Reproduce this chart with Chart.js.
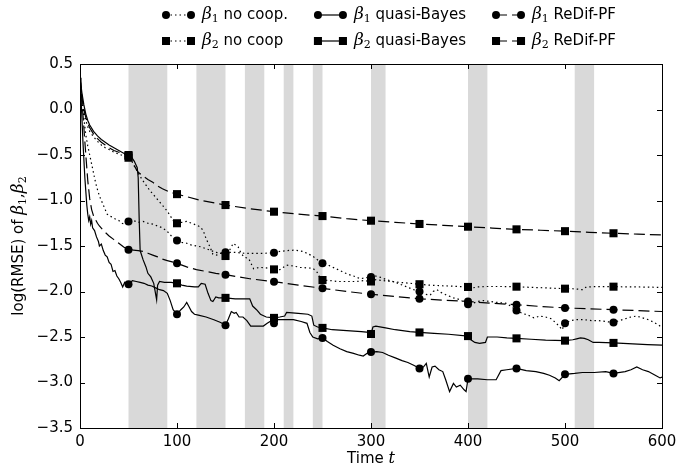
<!DOCTYPE html>
<html>
<head>
<meta charset="utf-8">
<script src="https://cdn.jsdelivr.net/npm/chart.js@4.4.1/dist/chart.umd.min.js"></script>
<style>
  html, body { margin: 0; padding: 0; background: #fff; }
  #wrap { width: 690px; height: 471px; }
</style>
</head>
<body>
<div id="wrap"><canvas id="grafico" width="690" height="471"></canvas></div>
<script>
// ===== DATA (time t, log RMSE) =====
const b1NoCoop = [[0,0.35],[2,0.1],[4,-0.1],[6,-0.28],[8,-0.4],[10,-0.5],[12,-0.6],[14,-0.7],[16,-0.8],[18,-0.88],[20,-0.95],[22,-1.0],[24,-1.05],[26,-1.1],[28,-1.15],[30,-1.17],[33,-1.18],[36,-1.2],[40,-1.22],[43,-1.25],[46,-1.26],[50,-1.23],[55,-1.22],[60,-1.24],[65,-1.23],[70,-1.25],[75,-1.26],[80,-1.28],[85,-1.3],[90,-1.34],[95,-1.4],[100,-1.44],[105,-1.46],[110,-1.47],[115,-1.49],[120,-1.5],[125,-1.51],[130,-1.53],[135,-1.55],[140,-1.57],[145,-1.58],[150,-1.57],[155,-1.57],[160,-1.57],[170,-1.58],[180,-1.58],[190,-1.58],[200,-1.575],[206,-1.56],[214,-1.55],[222,-1.545],[230,-1.56],[236,-1.59],[241,-1.62],[247,-1.67],[250,-1.69],[256,-1.71],[263,-1.745],[270,-1.78],[276,-1.81],[282,-1.83],[289,-1.86],[294,-1.85],[300,-1.84],[305,-1.83],[310,-1.845],[316,-1.87],[323,-1.89],[330,-1.92],[337,-1.95],[344,-1.98],[350,-2.0],[356,-2.03],[361,-2.04],[364,-2.0],[368,-1.98],[372,-2.01],[378,-2.04],[385,-2.07],[392,-2.09],[396,-2.12],[400,-2.14],[405,-2.13],[410,-2.11],[416,-2.1],[423,-2.11],[430,-2.12],[440,-2.13],[445,-2.17],[450,-2.21],[456,-2.24],[462,-2.26],[468,-2.29],[474,-2.27],[480,-2.28],[486,-2.3],[490,-2.34],[494,-2.38],[497,-2.42],[500,-2.35],[506,-2.32],[512,-2.31],[520,-2.31],[528,-2.32],[535,-2.32],[542,-2.33],[550,-2.34],[556,-2.32],[562,-2.3],[568,-2.28],[574,-2.27],[580,-2.29],[586,-2.31],[592,-2.34],[598,-2.38],[600,-2.39]];

const b2NoCoop = [[0,0.35],[2,0.12],[4,-0.02],[6,-0.12],[8,-0.19],[10,-0.24],[14,-0.3],[18,-0.35],[22,-0.39],[26,-0.42],[30,-0.44],[35,-0.47],[40,-0.49],[45,-0.51],[50,-0.53],[53,-0.56],[56,-0.62],[60,-0.7],[64,-0.77],[68,-0.83],[72,-0.89],[76,-0.94],[80,-0.99],[84,-1.04],[88,-1.09],[92,-1.15],[96,-1.22],[100,-1.25],[105,-1.24],[110,-1.23],[115,-1.25],[120,-1.27],[124,-1.29],[127,-1.33],[130,-1.42],[134,-1.51],[137,-1.59],[141,-1.6],[145,-1.58],[150,-1.61],[154,-1.55],[158,-1.47],[163,-1.51],[166,-1.58],[169,-1.62],[174,-1.64],[179,-1.75],[185,-1.735],[192,-1.74],[200,-1.757],[206,-1.76],[213,-1.71],[220,-1.72],[227,-1.735],[234,-1.74],[240,-1.745],[244,-1.78],[247,-1.84],[250,-1.874],[258,-1.88],[266,-1.89],[275,-1.89],[285,-1.89],[293,-1.88],[300,-1.89],[305,-1.87],[312,-1.88],[320,-1.89],[330,-1.9],[340,-1.91],[350,-1.92],[360,-1.93],[370,-1.935],[380,-1.94],[390,-1.945],[400,-1.95],[405,-1.96],[410,-1.95],[420,-1.945],[435,-1.945],[450,-1.947],[465,-1.955],[480,-1.96],[490,-1.965],[500,-1.969],[508,-1.97],[514,-1.975],[518,-1.98],[522,-1.95],[530,-1.947],[550,-1.947],[575,-1.95],[600,-1.955]];

const b1Quasi = [[0,0.35],[1,0.15],[2,-0.1],[3,-0.35],[4,-0.55],[5,-0.75],[6,-0.9],[7,-1.05],[8,-1.15],[9,-1.22],[10,-1.18],[11,-1.26],[12,-1.22],[13,-1.3],[15,-1.33],[17,-1.4],[19,-1.45],[20,-1.5],[22,-1.48],[24,-1.55],[26,-1.6],[28,-1.62],[30,-1.68],[32,-1.7],[34,-1.78],[36,-1.77],[38,-1.83],[40,-1.86],[42,-1.9],[44,-1.95],[46,-1.9],[48,-1.93],[50,-1.92],[54,-1.88],[58,-1.89],[62,-1.9],[66,-1.91],[70,-1.93],[74,-1.94],[78,-1.96],[82,-1.98],[86,-1.99],[90,-2.02],[93,-2.1],[96,-2.2],[100,-2.25],[104,-2.2],[107,-2.17],[110,-2.12],[112,-2.16],[115,-2.22],[118,-2.25],[122,-2.26],[130,-2.28],[138,-2.31],[145,-2.34],[150,-2.37],[153,-2.3],[156,-2.22],[159,-2.24],[161,-2.23],[164,-2.28],[168,-2.28],[172,-2.32],[176,-2.38],[182,-2.38],[189,-2.38],[193,-2.35],[196,-2.33],[200,-2.35],[204,-2.31],[212,-2.31],[220,-2.31],[228,-2.33],[234,-2.35],[237,-2.45],[240,-2.5],[245,-2.52],[250,-2.51],[255,-2.55],[261,-2.59],[268,-2.63],[275,-2.66],[282,-2.68],[288,-2.7],[292,-2.71],[296,-2.68],[300,-2.665],[306,-2.66],[312,-2.67],[318,-2.7],[325,-2.73],[332,-2.76],[338,-2.78],[344,-2.81],[350,-2.845],[354,-2.83],[357,-2.79],[360,-2.94],[363,-2.83],[366,-2.82],[370,-2.86],[374,-2.88],[377,-2.97],[381,-3.1],[385,-3.01],[388,-3.05],[392,-3.03],[396,-3.08],[398,-3.1],[400,-2.96],[410,-2.96],[420,-2.97],[429,-2.97],[434,-2.87],[440,-2.86],[450,-2.845],[460,-2.87],[470,-2.88],[478,-2.9],[484,-2.92],[490,-2.95],[494,-2.98],[500,-2.91],[510,-2.9],[518,-2.89],[530,-2.89],[542,-2.88],[550,-2.9],[562,-2.88],[568,-2.86],[574,-2.83],[580,-2.86],[586,-2.88],[593,-2.92],[598,-2.95],[600,-2.94]];

const b2Quasi = [[0,0.35],[2,0.18],[4,0.05],[6,-0.05],[8,-0.12],[10,-0.17],[14,-0.24],[18,-0.29],[22,-0.33],[26,-0.36],[30,-0.39],[35,-0.42],[40,-0.45],[45,-0.48],[50,-0.5],[53,-0.52],[56,-0.57],[59,-0.64],[60,-0.75],[61,-1.2],[62,-1.55],[65,-1.65],[68,-1.73],[70,-1.8],[73,-1.84],[76,-1.91],[79,-2.09],[80,-1.93],[82,-1.89],[87,-1.9],[94,-1.9],[100,-1.91],[105,-1.93],[110,-1.94],[118,-1.95],[122,-1.95],[125,-1.91],[129,-1.92],[132,-2.02],[135,-2.1],[137,-2.11],[140,-2.06],[143,-2.07],[150,-2.07],[160,-2.08],[170,-2.08],[175,-2.08],[178,-2.16],[182,-2.2],[186,-2.25],[192,-2.28],[200,-2.29],[206,-2.28],[211,-2.27],[213,-2.23],[225,-2.24],[235,-2.25],[239,-2.27],[241,-2.37],[245,-2.39],[250,-2.4],[260,-2.42],[275,-2.43],[290,-2.44],[298,-2.45],[300,-2.467],[302,-2.39],[305,-2.38],[315,-2.4],[325,-2.42],[340,-2.44],[350,-2.45],[365,-2.46],[380,-2.47],[400,-2.49],[403,-2.53],[407,-2.56],[412,-2.57],[418,-2.56],[420,-2.5],[430,-2.5],[440,-2.51],[450,-2.515],[465,-2.525],[480,-2.535],[500,-2.54],[508,-2.53],[512,-2.52],[516,-2.51],[520,-2.515],[524,-2.53],[529,-2.56],[535,-2.56],[550,-2.565],[570,-2.575],[585,-2.583],[600,-2.59]];

const b1ReDif = [[0,0.35],[2,0.1],[4,-0.2],[6,-0.5],[8,-0.78],[10,-0.98],[12,-1.1],[14,-1.17],[16,-1.21],[18,-1.25],[20,-1.28],[25,-1.34],[30,-1.39],[35,-1.43],[40,-1.47],[45,-1.51],[50,-1.54],[55,-1.545],[60,-1.55],[65,-1.56],[70,-1.58],[75,-1.6],[80,-1.62],[85,-1.645],[90,-1.66],[95,-1.675],[100,-1.69],[110,-1.73],[120,-1.76],[130,-1.78],[140,-1.8],[150,-1.815],[175,-1.86],[200,-1.892],[225,-1.93],[250,-1.965],[275,-2.0],[300,-2.03],[325,-2.055],[350,-2.08],[375,-2.095],[400,-2.11],[425,-2.13],[450,-2.145],[475,-2.165],[500,-2.18],[525,-2.19],[550,-2.2],[575,-2.21],[600,-2.22]];

const b2ReDif = [[0,0.35],[2,0.13],[4,0.0],[6,-0.09],[8,-0.15],[10,-0.2],[14,-0.27],[18,-0.32],[22,-0.36],[26,-0.39],[30,-0.42],[35,-0.45],[40,-0.47],[45,-0.49],[50,-0.51],[53,-0.55],[56,-0.62],[60,-0.69],[65,-0.73],[70,-0.77],[75,-0.8],[80,-0.84],[85,-0.87],[90,-0.895],[95,-0.915],[100,-0.93],[125,-1.0],[150,-1.05],[175,-1.09],[200,-1.123],[225,-1.15],[250,-1.171],[275,-1.2],[300,-1.222],[325,-1.24],[350,-1.258],[375,-1.273],[400,-1.288],[425,-1.303],[450,-1.317],[475,-1.327],[500,-1.337],[525,-1.35],[550,-1.36],[575,-1.37],[600,-1.379]];

// shaded time windows
const shadedSpans = [[50,90],[120,150],[170,190],[210,220],[240,250],[300,315],[400,420],[510,530]];

const seriesNames = ['no coop.', 'no coop', 'quasi-Bayes', 'quasi-Bayes', 'ReDif-PF', 'ReDif-PF'];
const seriesBeta = ['1', '2', '1', '2', '1', '2'];
const xTicks = [0, 100, 200, 300, 400, 500, 600];
const yTicks = [-3.5, -3.0, -2.5, -2.0, -1.5, -1.0, -0.5, 0.0, 0.5];

// ===== STYLE =====
const SANS = '"DejaVu Sans", sans-serif';
const SERIF_IT = 'italic 17px "DejaVu Serif", serif';
const SUB = '11px "DejaVu Serif", serif';
const dashes = { dotted: [1.5, 3], solid: [], dashed: [11, 5] };
const estilos = [
  { dash: dashes.dotted, marker: 'circle' },
  { dash: dashes.dotted, marker: 'rect' },
  { dash: dashes.solid, marker: 'circle' },
  { dash: dashes.solid, marker: 'rect' },
  { dash: dashes.dashed, marker: 'circle' },
  { dash: dashes.dashed, marker: 'rect' }
];
const todasSeries = [b1NoCoop, b2NoCoop, b1Quasi, b2Quasi, b1ReDif, b2ReDif];

function temMarcador(t) {
  return t >= 50 && t <= 550 && t % 50 === 0;
}

function raioMarcador(estilo) {
  return estilo === 'rect' ? 5.7 : 4;
}

const datasets = todasSeries.map((serie, i) => ({
  label: 'β' + seriesBeta[i] + ' ' + seriesNames[i],
  data: serie.map(p => ({ x: p[0], y: p[1] })),
  borderColor: '#000',
  borderWidth: 1.2,
  borderDash: estilos[i].dash,
  pointStyle: estilos[i].marker,
  pointBackgroundColor: '#000',
  pointBorderColor: '#000',
  pointBorderWidth: 0,
  pointRadius: ctx => temMarcador(ctx.raw.x) ? raioMarcador(estilos[i].marker) : 0,
  pointHoverRadius: 0,
  tension: 0,
  fill: false
}));

// draw text runs (normal + italic beta + subscript)
function desenharRuns(c, runs, x, y) {
  let cx = x;
  runs.forEach(r => {
    c.font = r.font;
    c.fillText(r.text, cx, y + (r.dy || 0));
    cx += c.measureText(r.text).width;
  });
  return cx;
}
function larguraRuns(c, runs) {
  let w = 0;
  runs.forEach(r => { c.font = r.font; w += c.measureText(r.text).width; });
  return w;
}
function runsLegenda(i) {
  return [
    { text: 'β', font: SERIF_IT },
    { text: seriesBeta[i], font: SUB, dy: 4 },
    { text: ' ' + seriesNames[i], font: '15px ' + SANS }
  ];
}

function desenharMarcador(c, estilo, x, y) {
  c.beginPath();
  if (estilo === 'rect') {
    const s = raioMarcador('rect') * Math.SQRT1_2;
    c.rect(x - s, y - s, 2 * s, 2 * s);
  } else {
    c.arc(x, y, raioMarcador('circle'), 0, Math.PI * 2);
  }
  c.fill();
}

const decoracao = {
  id: 'decoracao',
  beforeDatasetsDraw(chart) {
    const c = chart.ctx, a = chart.chartArea, x = chart.scales.x;
    c.save();
    c.fillStyle = '#d9d9d9';
    shadedSpans.forEach(s => {
      const x0 = x.getPixelForValue(s[0]), x1 = x.getPixelForValue(s[1]);
      c.fillRect(x0, a.top, x1 - x0, a.bottom - a.top);
    });
    c.restore();
  },
  afterDraw(chart) {
    const c = chart.ctx, a = chart.chartArea;
    const xs = chart.scales.x, ys = chart.scales.y;
    c.save();
    c.strokeStyle = '#000';
    c.lineWidth = 1;
    c.setLineDash([]);
    // inward tick marks on all four sides
    c.beginPath();
    xTicks.forEach(t => {
      const px = Math.round(xs.getPixelForValue(t)) + 0.5;
      c.moveTo(px, a.bottom); c.lineTo(px, a.bottom - 5);
      c.moveTo(px, a.top); c.lineTo(px, a.top + 5);
    });
    yTicks.forEach(v => {
      const py = Math.round(ys.getPixelForValue(v)) + 0.5;
      c.moveTo(a.left, py); c.lineTo(a.left + 5, py);
      c.moveTo(a.right, py); c.lineTo(a.right - 5, py);
    });
    c.stroke();
    // frame
    c.strokeRect(Math.round(a.left) + 0.5, Math.round(a.top) + 0.5,
                 Math.round(a.right - a.left), Math.round(a.bottom - a.top));

    // legend: 3 columns x 2 rows
    c.fillStyle = '#000';
    c.textBaseline = 'middle';
    c.textAlign = 'left';
    const handle = 25, pad = 11, colGap = 30;
    let lx = 166;
    for (let col = 0; col < 3; col++) {
      let wMax = 0;
      for (let row = 0; row < 2; row++) {
        wMax = Math.max(wMax, larguraRuns(c, runsLegenda(col * 2 + row)));
      }
      for (let row = 0; row < 2; row++) {
        const i = col * 2 + row;
        const ly = 15 + row * 26;
        c.lineWidth = 1.2;
        c.beginPath();
        c.setLineDash(estilos[i].dash);
        c.moveTo(lx, ly); c.lineTo(lx + handle, ly);
        c.stroke();
        c.setLineDash([]);
        desenharMarcador(c, estilos[i].marker, lx, ly);
        desenharMarcador(c, estilos[i].marker, lx + handle, ly);
        desenharRuns(c, runsLegenda(i), lx + handle + pad, ly);
      }
      lx += handle + pad + wMax + colGap;
    }

    // x axis title
    const tituloX = [
      { text: 'Time ', font: '15px ' + SANS },
      { text: 't', font: 'italic 16px "DejaVu Serif", serif' }
    ];
    const wx = larguraRuns(c, tituloX);
    desenharRuns(c, tituloX, (a.left + a.right) / 2 - wx / 2, 459);

    // y axis title (rotated)
    const tituloY = [
      { text: 'log(RMSE) of ', font: '15px ' + SANS },
      { text: 'β', font: SERIF_IT },
      { text: '1', font: SUB, dy: 4 },
      { text: ',', font: '15px "DejaVu Serif", serif' },
      { text: 'β', font: SERIF_IT },
      { text: '2', font: SUB, dy: 4 }
    ];
    const wy = larguraRuns(c, tituloY);
    c.translate(19, (a.top + a.bottom) / 2);
    c.rotate(-Math.PI / 2);
    desenharRuns(c, tituloY, -wy / 2, 0);
    c.restore();
  }
};

function rotuloY(v) {
  return v.toFixed(1).replace('-', '\u2212');
}

const ctx = document.getElementById('grafico').getContext('2d');
new Chart(ctx, {
  type: 'line',
  data: { datasets: datasets },
  options: {
    responsive: false,
    animation: false,
    layout: { padding: { top: 64, right: 28, left: 0, bottom: 0 } },
    plugins: { legend: { display: false }, tooltip: { enabled: false } },
    scales: {
      x: {
        type: 'linear',
        min: 0, max: 600,
        afterFit: s => { s.height = 43; },
        afterBuildTicks: s => { s.ticks = xTicks.map(v => ({ value: v })); },
        grid: { display: false, drawTicks: false },
        border: { display: false },
        ticks: { color: '#000', font: { family: SANS, size: 15 }, padding: 5, maxRotation: 0 }
      },
      y: {
        min: -3.5, max: 0.5,
        afterFit: s => { s.width = 80; },
        afterBuildTicks: s => { s.ticks = yTicks.map(v => ({ value: v })); },
        grid: { display: false, drawTicks: false },
        border: { display: false },
        ticks: { color: '#000', font: { family: SANS, size: 15 }, padding: 7, callback: rotuloY }
      }
    }
  },
  plugins: [decoracao]
});
</script>
</body>
</html>
